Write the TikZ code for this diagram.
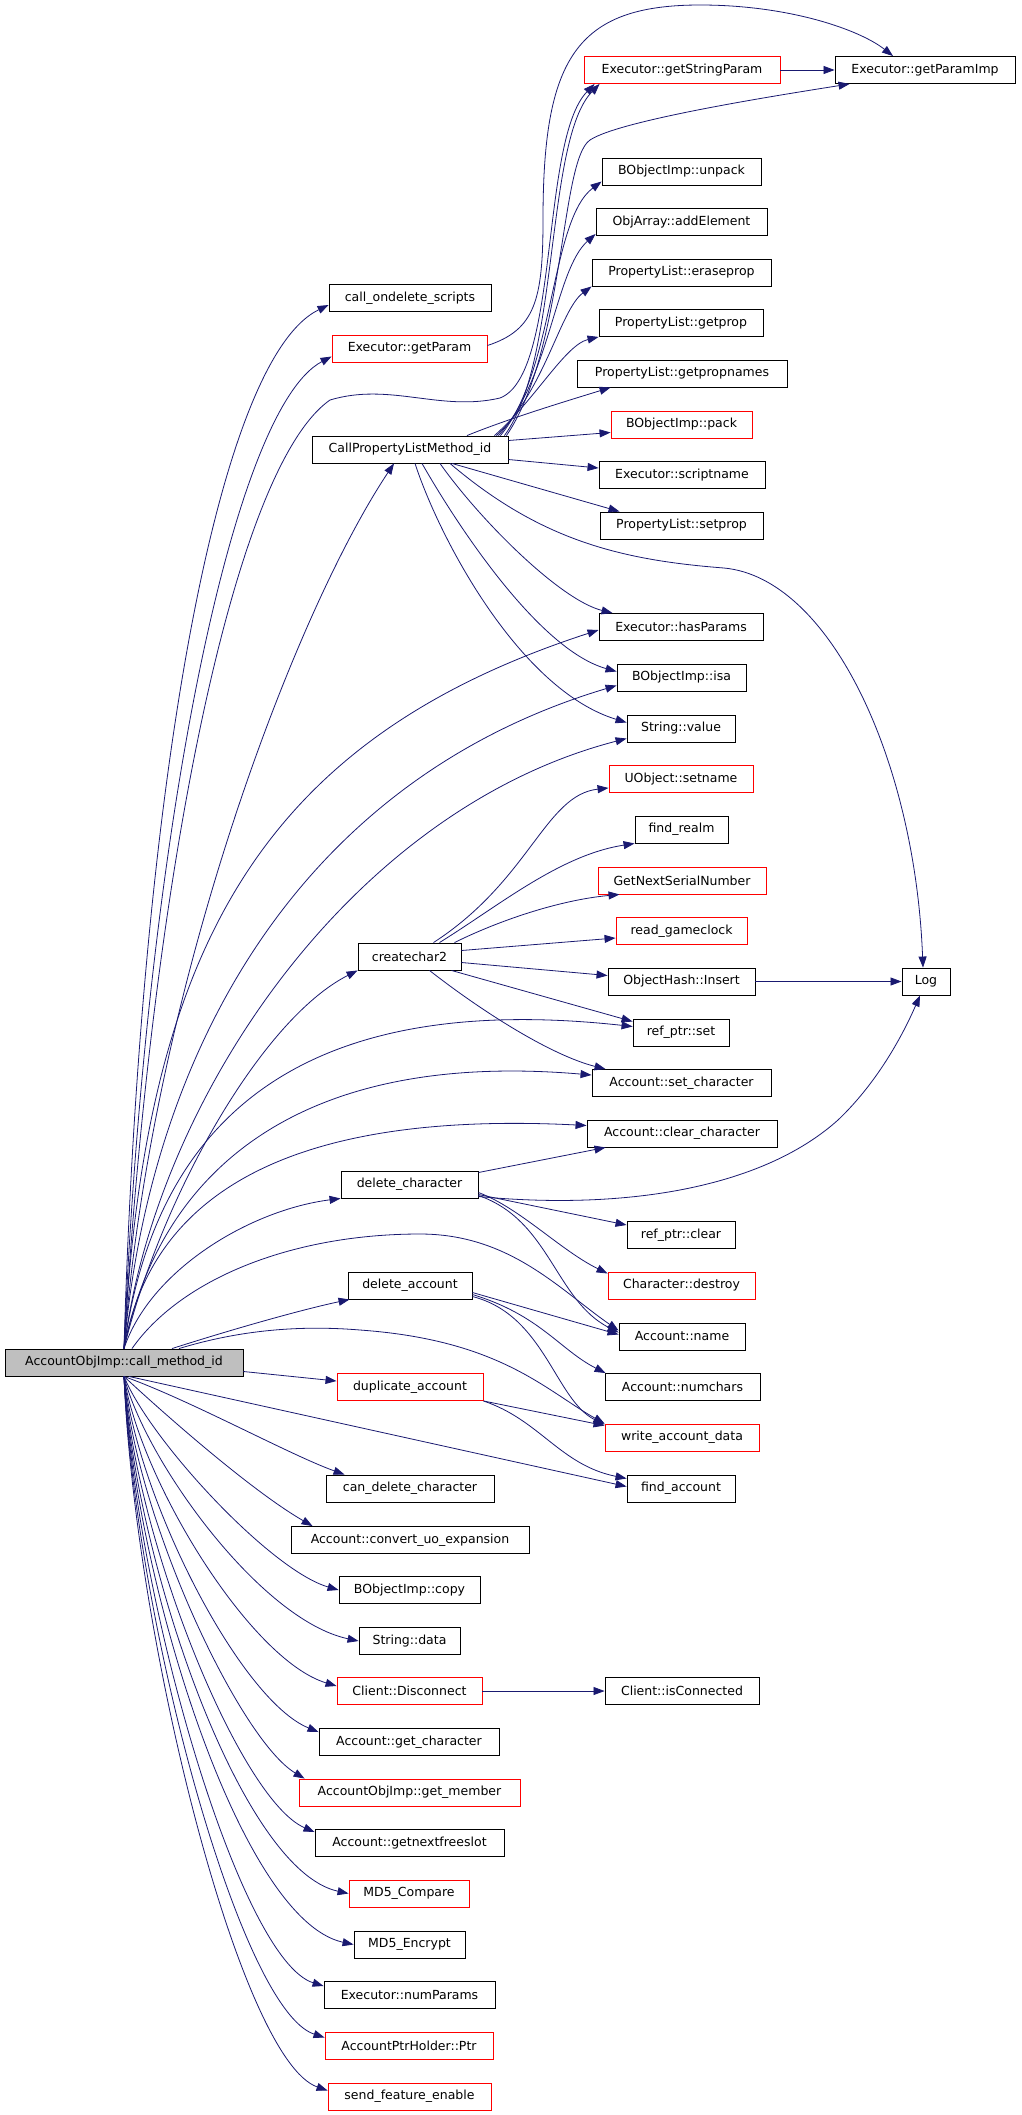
\documentclass[tikz,border=0pt]{standalone}
\usepackage{fontspec}
\setmainfont{DejaVu Sans}
\usetikzlibrary{arrows.meta}
\definecolor{edgeblue}{HTML}{191970}
\definecolor{rootgray}{HTML}{BFBFBF}

\begin{document}
\begin{tikzpicture}[x=1pt, y=-1pt,
		fn_box/.style={rectangle,draw=black,line width=0.9pt,fill=white,minimum height=27pt,inner sep=0pt,font=\fontsize{12.5}{15}\selectfont},
		red_box/.style={fn_box,draw=red},
		root_box/.style={fn_box,fill=rootgray},
		call_edge/.style={draw=edgeblue,line width=0.8pt,-{Triangle[length=11pt,width=8pt]}}]
		\useasboundingbox (0,0) rectangle (1021,2115);
		\node[root_box, minimum width=238pt] (root) at (124,1362.5) {AccountObjImp::call\_method\_id};
		\node[red_box, minimum width=196pt] (getStringParam) at (682,70) {Executor::getStringParam};
		\node[fn_box, minimum width=180pt] (getParamImp) at (925,70) {Executor::getParamImp};
		\node[fn_box, minimum width=159pt] (unpack) at (681.5,171.5) {BObjectImp::unpack};
		\node[fn_box, minimum width=171pt] (addElement) at (681.5,222) {ObjArray::addElement};
		\node[fn_box, minimum width=179pt] (eraseprop) at (681.5,272.5) {PropertyList::eraseprop};
		\node[fn_box, minimum width=162pt] (callOndelete) at (410,298) {call\_ondelete\_scripts};
		\node[fn_box, minimum width=164pt] (getprop) at (681,323) {PropertyList::getprop};
		\node[red_box, minimum width=155pt] (getParam) at (409.5,348.5) {Executor::getParam};
		\node[fn_box, minimum width=210pt] (getpropnames) at (682,373.5) {PropertyList::getpropnames};
		\node[red_box, minimum width=141pt] (pack) at (681.5,424.5) {BObjectImp::pack};
		\node[fn_box, minimum width=196pt] (cplm) at (410,449.5) {CallPropertyListMethod\_id};
		\node[fn_box, minimum width=166pt] (scriptname) at (682,475) {Executor::scriptname};
		\node[fn_box, minimum width=163pt] (setprop) at (681.5,525.5) {PropertyList::setprop};
		\node[fn_box, minimum width=164pt] (hasParams) at (681,627) {Executor::hasParams};
		\node[fn_box, minimum width=129pt] (isa) at (681.5,677.5) {BObjectImp::isa};
		\node[fn_box, minimum width=108pt] (strValue) at (681,728.5) {String::value};
		\node[red_box, minimum width=144pt] (setname) at (681,779) {UObject::setname};
		\node[fn_box, minimum width=93pt] (findRealm) at (681.5,829.5) {find\_realm};
		\node[red_box, minimum width=168pt] (getNextSerial) at (682,880.5) {GetNextSerialNumber};
		\node[red_box, minimum width=131pt] (readClock) at (681.5,931) {read\_gameclock};
		\node[fn_box, minimum width=103pt] (createchar2) at (409.5,956.5) {createchar2};
		\node[fn_box, minimum width=147pt] (objHash) at (681.5,981.5) {ObjectHash::Insert};
		\node[fn_box, minimum width=48pt] (log) at (926,981.5) {Log};
		\node[fn_box, minimum width=96pt] (refSet) at (681,1032.5) {ref\_ptr::set};
		\node[fn_box, minimum width=179pt] (setChar) at (681.5,1083) {Account::set\_character};
		\node[fn_box, minimum width=190pt] (clearChar) at (682,1133.5) {Account::clear\_character};
		\node[fn_box, minimum width=137pt] (delChar) at (409.5,1184.5) {delete\_character};
		\node[fn_box, minimum width=108pt] (refClear) at (681,1235) {ref\_ptr::clear};
		\node[red_box, minimum width=147pt] (destroy) at (681.5,1285.5) {Character::destroy};
		\node[fn_box, minimum width=124pt] (delAcct) at (410,1285.5) {delete\_account};
		\node[fn_box, minimum width=126pt] (accName) at (682,1336.5) {Account::name};
		\node[fn_box, minimum width=155pt] (numchars) at (682.5,1387) {Account::numchars};
		\node[red_box, minimum width=146pt] (duplicate) at (410,1387) {duplicate\_account};
		\node[red_box, minimum width=154pt] (writeData) at (682,1437.5) {write\_account\_data};
		\node[fn_box, minimum width=168pt] (canDel) at (410,1488.5) {can\_delete\_character};
		\node[fn_box, minimum width=108pt] (findAcct) at (681,1488.5) {find\_account};
		\node[fn_box, minimum width=238pt] (convert) at (410,1540) {Account::convert\_uo\_expansion};
		\node[fn_box, minimum width=141pt] (copy) at (409.5,1590) {BObjectImp::copy};
		\node[fn_box, minimum width=101pt] (strData) at (409.5,1641) {String::data};
		\node[red_box, minimum width=145pt] (disconnect) at (409.5,1691) {Client::Disconnect};
		\node[fn_box, minimum width=154pt] (isConnected) at (682,1691) {Client::isConnected};
		\node[fn_box, minimum width=180pt] (getChar) at (409,1742) {Account::get\_character};
		\node[red_box, minimum width=221pt] (getMember) at (409.5,1792.5) {AccountObjImp::get\_member};
		\node[fn_box, minimum width=189pt] (freeslot) at (409.5,1843) {Account::getnextfreeslot};
		\node[red_box, minimum width=120pt] (md5Compare) at (409,1893.5) {MD5\_Compare};
		\node[fn_box, minimum width=111pt] (md5Encrypt) at (409.5,1944.5) {MD5\_Encrypt};
		\node[fn_box, minimum width=171pt] (numParams) at (409.5,1995) {Executor::numParams};
		\node[red_box, minimum width=168pt] (ptrHolder) at (409,2045.5) {AccountPtrHolder::Ptr};
		\node[red_box, minimum width=163pt] (sendFeature) at (409.5,2096.5) {send\_feature\_enable};
		\draw[call_edge] (root.north) .. controls (140,800) and (215,360) .. ([yshift=-7pt]callOndelete.west);
		\draw[call_edge] (root.north) .. controls (145,850) and (230,410) .. ([yshift=-8pt]getParam.west);
		\draw[call_edge] (root.north) .. controls (150,900) and (230,470) .. (330,400) .. controls (390,382) and (440,412) .. (500,398) .. controls (560,375) and (540,140) .. ([xshift=11pt]getStringParam.south west);
		\draw[call_edge] (root.north) .. controls (150,1000) and (290,620) .. ([xshift=-16pt]cplm.south);
		\draw[call_edge] (root.north) .. controls (145,950) and (260,740) .. ([yshift=-3pt]hasParams.west);
		\draw[call_edge] (root.north) .. controls (150,1050) and (300,780) .. ([yshift=-8pt]isa.west);
		\draw[call_edge] (root.north) .. controls (155,1100) and (350,810) .. ([yshift=-10pt]strValue.west);
		\draw[call_edge] (root.north) .. controls (160,1200) and (260,1020) .. (createchar2.south west);
		\draw[call_edge] (root.north) .. controls (155,1120) and (300,990) .. ([yshift=6pt]refSet.west);
		\draw[call_edge] (root.north) .. controls (160,1170) and (300,1050) .. ([yshift=8pt]setChar.west);
		\draw[call_edge] (root.north) .. controls (150,1200) and (280,1110) .. ([yshift=8pt]clearChar.west);
		\draw[call_edge] (root.north) .. controls (150,1270) and (250,1210) .. (delChar.south west);
		\draw[call_edge] ([xshift=8pt]root.north) .. controls (180,1280) and (290,1234) .. (420,1234) .. controls (510,1234) and (560,1290) .. ([yshift=6pt]accName.west);
		\draw[call_edge] ([xshift=48pt]root.north) .. controls (230,1330) and (300,1310) .. ([xshift=2pt]delAcct.south west);
		\draw[call_edge] ([xshift=55pt]root.north) .. controls (240,1330) and (300,1325) .. (360,1330) .. controls (500,1340) and (545,1390) .. (writeData.north west);
		\draw[call_edge] ([yshift=-9pt]root.east) -- ([yshift=6pt]duplicate.west);
		\draw[call_edge] ([xshift=5pt]root.south) -- ([yshift=2pt]findAcct.west);
		\draw[call_edge] (root.south) .. controls (190,1400) and (290,1455) .. ([xshift=19pt]canDel.north west);
		\draw[call_edge] (root.south) .. controls (160,1410) and (250,1490) .. ([xshift=22pt]convert.north west);
		\draw[call_edge] (root.south) .. controls (150,1440) and (270,1570) .. (copy.west);
		\draw[call_edge] (root.south) .. controls (145,1460) and (260,1620) .. (strData.west);
		\draw[call_edge] (root.south) .. controls (140,1480) and (250,1660) .. ([yshift=5pt]disconnect.west);
		\draw[call_edge] (root.south) .. controls (138,1500) and (240,1700) .. ([yshift=10pt]getChar.west);
		\draw[call_edge] (root.south) .. controls (136,1520) and (240,1740) .. ([xshift=6pt]getMember.north west);
		\draw[call_edge] (root.south) .. controls (135,1540) and (240,1800) .. ([yshift=11pt]freeslot.west);
		\draw[call_edge] (root.south) .. controls (135,1560) and (240,1870) .. (md5Compare.west);
		\draw[call_edge] (root.south) .. controls (135,1580) and (240,1920) .. (md5Encrypt.west);
		\draw[call_edge] (root.south) .. controls (135,1600) and (240,1960) .. ([yshift=9pt]numParams.west);
		\draw[call_edge] (root.south) .. controls (135,1620) and (240,2010) .. ([yshift=8pt]ptrHolder.west);
		\draw[call_edge] (root.south) .. controls (135,1640) and (240,2060) .. ([yshift=6pt]sendFeature.west);
		\draw[call_edge] ([xshift=-4pt]cplm.north east) .. controls (560,360) and (545,140) .. ([xshift=16pt]getStringParam.south west);
		\draw[call_edge] ([xshift=-2pt]cplm.north east) .. controls (565,350) and (560,160) .. (590,140) .. controls (620,120) and (780,95) .. ([xshift=15pt]getParamImp.south west);
		\draw[call_edge] ([xshift=-8pt]cplm.north east) .. controls (555,370) and (550,220) .. ([yshift=-10pt]unpack.west);
		\draw[call_edge] ([xshift=-10pt]cplm.north east) .. controls (550,380) and (555,270) .. ([yshift=-12pt]addElement.west);
		\draw[call_edge] ([xshift=-12pt]cplm.north east) .. controls (545,390) and (560,310) .. (eraseprop.south west);
		\draw[call_edge] ([xshift=-14pt]cplm.north east) .. controls (535,400) and (565,345) .. (getprop.south west);
		\draw[call_edge] ([xshift=57pt]cplm.north) .. controls (510,418) and (570,400) .. ([xshift=34pt]getpropnames.south west);
		\draw[call_edge] ([yshift=9pt]cplm.east) -- ([yshift=-8pt]pack.west);
		\draw[call_edge] ([yshift=-10pt]cplm.east) -- ([yshift=7pt]scriptname.west);
		\draw[call_edge] ([xshift=42pt]cplm.south) -- ([xshift=20pt]setprop.north west);
		\draw[call_edge] ([xshift=40pt]cplm.south) .. controls (540,540) and (620,560) .. (724,568) .. controls (830,578) and (915,760) .. ([xshift=-3pt]log.north);
		\draw[call_edge] ([xshift=30pt]cplm.south) .. controls (480,520) and (560,600) .. ([xshift=14pt]hasParams.north west);
		\draw[call_edge] ([xshift=12pt]cplm.south) .. controls (460,530) and (540,650) .. ([yshift=6pt]isa.west);
		\draw[call_edge] ([xshift=5pt]cplm.south) .. controls (440,540) and (520,690) .. ([yshift=6pt]strValue.west);
		\draw[call_edge] ([yshift=3pt]getParam.east) .. controls (535,330) and (543,300) .. (543,220) .. controls (543,60) and (575,5) .. (700,5) .. controls (790,5) and (860,30) .. ([xshift=-32pt]getParamImp.north);
		\draw[call_edge] (getStringParam.east) -- (getParamImp.west);
		\draw[call_edge] ([xshift=24pt]createchar2.north) .. controls (530,880) and (545,795) .. ([yshift=5pt]setname.south west);
		\draw[call_edge] ([xshift=30pt]createchar2.north) .. controls (500,905) and (560,855) .. (findRealm.south west);
		\draw[call_edge] ([xshift=45pt]createchar2.north) .. controls (500,920) and (560,900) .. ([xshift=22pt]getNextSerial.south west);
		\draw[call_edge] ([yshift=6pt]createchar2.east) -- ([yshift=-7pt]readClock.west);
		\draw[call_edge] ([yshift=-6pt]createchar2.east) -- ([yshift=6pt]objHash.west);
		\draw[call_edge] ([xshift=42pt]createchar2.south) -- ([yshift=11pt]refSet.west);
		\draw[call_edge] ([xshift=20pt]createchar2.south) .. controls (480,1010) and (550,1055) .. ([xshift=14pt]setChar.north west);
		\draw[call_edge] (objHash.east) -- (log.west);
		\draw[call_edge] ([yshift=12pt]delChar.east) -- ([xshift=19pt]clearChar.south west);
		\draw[call_edge] ([yshift=-12pt]delChar.east) .. controls (620,1210) and (760,1190) .. (838,1120) .. controls (880,1080) and (905,1030) .. ([xshift=-6pt]log.south);
		\draw[call_edge] ([yshift=-10pt]delChar.east) -- ([yshift=10pt]refClear.west);
		\draw[call_edge] ([yshift=-8pt]delChar.east) .. controls (520,1208) and (560,1250) .. ([yshift=12pt]destroy.west);
		\draw[call_edge] ([yshift=-11pt]delChar.east) .. controls (550,1220) and (555,1300) .. ([yshift=4pt]accName.west);
		\draw[call_edge] ([yshift=-7pt]delAcct.east) -- ([yshift=2pt]accName.west);
		\draw[call_edge] ([yshift=-9pt]delAcct.east) .. controls (540,1315) and (560,1350) .. ([xshift=1pt]numchars.north west);
		\draw[call_edge] ([yshift=-11pt]delAcct.east) .. controls (545,1315) and (555,1400) .. ([yshift=-1pt]writeData.north west);
		\draw[call_edge] (duplicate.south east) -- ([yshift=-2pt]writeData.north west);
		\draw[call_edge] (duplicate.south east) .. controls (540,1420) and (560,1465) .. ([yshift=10pt]findAcct.west);
		\draw[call_edge] (disconnect.east) -- (isConnected.west);
		\end{tikzpicture}
\end{document}
